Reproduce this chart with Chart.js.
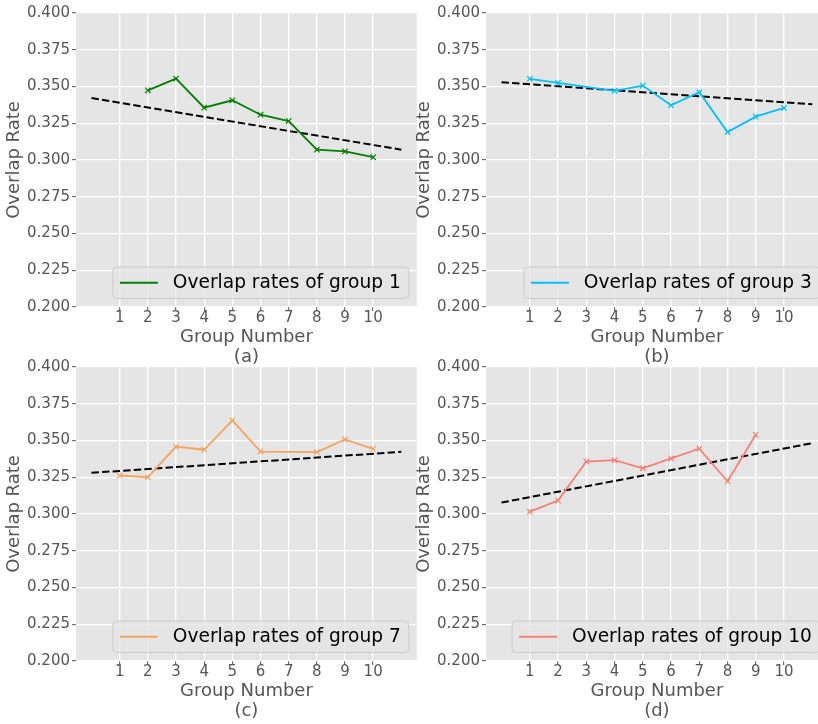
<!DOCTYPE html>
<html>
<head>
<meta charset="utf-8">
<title>Overlap rates</title>
<script src="https://cdn.jsdelivr.net/npm/chart.js@4.4.1/dist/chart.umd.min.js"></script>
<style>
    html, body { margin: 0; padding: 0; background: #fff; overflow: hidden; width: 818px; height: 724px; }
    canvas { position: absolute; }
</style>
</head>
<body>
<canvas id="chartA" width="422" height="367" style="left:0px;top:0px"></canvas>
<canvas id="chartB" width="423" height="367" style="left:410px;top:0px"></canvas>
<canvas id="chartC" width="422" height="367" style="left:0px;top:354px"></canvas>
<canvas id="chartD" width="423" height="367" style="left:410px;top:354px"></canvas>
<script>
// group numbers on the x axis
const groupNumbers = [1, 2, 3, 4, 5, 6, 7, 8, 9, 10];
const yTicks = [0.200, 0.225, 0.250, 0.275, 0.300, 0.325, 0.350, 0.375, 0.400];

// overlap rates (a group is not compared with itself)
const group1Rates = [null, 0.3474, 0.3554, 0.3356, 0.3406, 0.3308, 0.3265, 0.3070, 0.3058, 0.3019];
const group3Rates = [0.3552, 0.3524, null, 0.3470, 0.3506, 0.3372, 0.3461, 0.3190, 0.3295, 0.3354];
const group7Rates = [0.3262, 0.3250, 0.3459, 0.3437, 0.3637, 0.3425, null, 0.3421, 0.3507, 0.3443];
const group10Rates = [0.3016, 0.3091, 0.3357, 0.3366, 0.3311, 0.3378, 0.3444, 0.3223, 0.3539, null];

// dashed trend lines, start and end
const trendX = [0, 11];
const trend1 = [0.3422, 0.3070];
const trend3 = [0.3529, 0.3379];
const trend7 = [0.3280, 0.3423];
const trend10 = [0.3078, 0.3482];

const FONT = '"DejaVu Sans", "Liberation Sans", sans-serif';

const panelBackground = {
    id: 'panelBackground',
    beforeDraw(chart) {
        const { ctx, chartArea: a } = chart;
        ctx.save();
        ctx.fillStyle = '#e5e5e5';
        ctx.fillRect(a.left, a.top, a.right - a.left, a.bottom - a.top);
        ctx.restore();
    }
};

// matplotlib-like legend in the lower right corner
const insetLegend = {
    id: 'insetLegend',
    afterDatasetsDraw(chart) {
        const ds = chart.data.datasets[0];
        const { ctx, chartArea: a } = chart;
        ctx.save();
        ctx.font = '18.6px ' + FONT;
        const textW = ctx.measureText(ds.label).width;
        const w = 7 + 38 + 15 + textW + 8;
        const h = 31.5;
        const x = a.right - 8 - w;
        const y = a.bottom - 8.5 - h;
        ctx.beginPath();
        ctx.roundRect(x, y, w, h, 4);
        ctx.fillStyle = 'rgba(229,229,229,0.8)';
        ctx.fill();
        ctx.strokeStyle = '#cccccc';
        ctx.lineWidth = 1;
        ctx.stroke();

        ctx.beginPath();
        ctx.moveTo(x + 7, y + h / 2);
        ctx.lineTo(x + 45, y + h / 2);
        ctx.strokeStyle = ds.borderColor;
        ctx.lineWidth = 1.8;
        ctx.stroke();

        ctx.fillStyle = '#000';
        ctx.textBaseline = 'middle';
        ctx.fillText(ds.label, x + 60, y + h / 2 + 0.5);
        ctx.restore();
    }
};

const makePanel = (id, rates, trend, color, label, panelName) => {
    const ctx = document.getElementById(id).getContext('2d');
    return new Chart(ctx, {
        type: 'line',
        data: {
            datasets: [
                {
                    label: label,
                    data: groupNumbers.map((g, i) => ({ x: g, y: rates[i] })),
                    borderColor: color,
                    backgroundColor: color,
                    borderWidth: 1.8,
                    pointStyle: 'crossRot',
                    pointRadius: 3.8,
                    pointBorderWidth: 1.2,
                    pointBorderColor: color,
                    spanGaps: true,
                    tension: 0
                },
                {
                    label: 'trend',
                    data: trendX.map((t, i) => ({ x: t, y: trend[i] })),
                    borderColor: '#000',
                    borderWidth: 2,
                    borderDash: [7.4, 3.2],
                    pointRadius: 0,
                    tension: 0
                }
            ]
        },
        options: {
            responsive: false,
            animation: false,
            layout: { padding: { top: 13, right: 0, bottom: 0, left: 0 } },
            plugins: {
                legend: { display: false },
                tooltip: { enabled: false }
            },
            scales: {
                x: {
                    type: 'linear',
                    min: -0.55,
                    max: 11.55,
                    afterBuildTicks: (s) => { s.ticks = groupNumbers.map(v => ({ value: v })); },
                    afterFit: (s) => { s.height = 60; },
                    border: { display: false },
                    grid: { color: '#ffffff', lineWidth: 1.3, tickColor: '#555555', tickLength: 4, tickWidth: 1 },
                    ticks: {
                        color: '#555555',
                        font: { family: FONT, size: 15, lineHeight: 1 },
                        padding: 0,
                        maxRotation: 0,
                        autoSkip: false,
                        callback: (v) => String(v)
                    },
                    title: {
                        display: true,
                        text: ['Group Number', panelName],
                        color: '#555555',
                        font: { family: FONT, size: 18, lineHeight: 1.1 },
                        padding: { top: 0, bottom: 0 }
                    }
                },
                y: {
                    min: yTicks[0],
                    max: yTicks[yTicks.length - 1],
                    afterBuildTicks: (s) => { s.ticks = yTicks.map(v => ({ value: v })); },
                    afterFit: (s) => { s.width = 76; },
                    border: { display: false },
                    grid: { color: '#ffffff', lineWidth: 1.3, tickColor: '#555555', tickLength: 4, tickWidth: 1 },
                    ticks: {
                        color: '#555555',
                        font: { family: FONT, size: 15 },
                        padding: 2,
                        callback: (v) => Number(v).toFixed(3)
                    },
                    title: {
                        display: true,
                        text: 'Overlap Rate',
                        color: '#555555',
                        font: { family: FONT, size: 18 },
                        padding: { top: 4, bottom: 0 }
                    }
                }
            }
        },
        plugins: [panelBackground, insetLegend]
    });
};

document.addEventListener('DOMContentLoaded', () => {
    makePanel('chartA', group1Rates, trend1, '#008000', 'Overlap rates of group 1', '(a)');
    makePanel('chartB', group3Rates, trend3, '#00bfff', 'Overlap rates of group 3', '(b)');
    makePanel('chartC', group7Rates, trend7, '#f4a460', 'Overlap rates of group 7', '(c)');
    makePanel('chartD', group10Rates, trend10, '#fa8072', 'Overlap rates of group 10', '(d)');
});
</script>
</body>
</html>
